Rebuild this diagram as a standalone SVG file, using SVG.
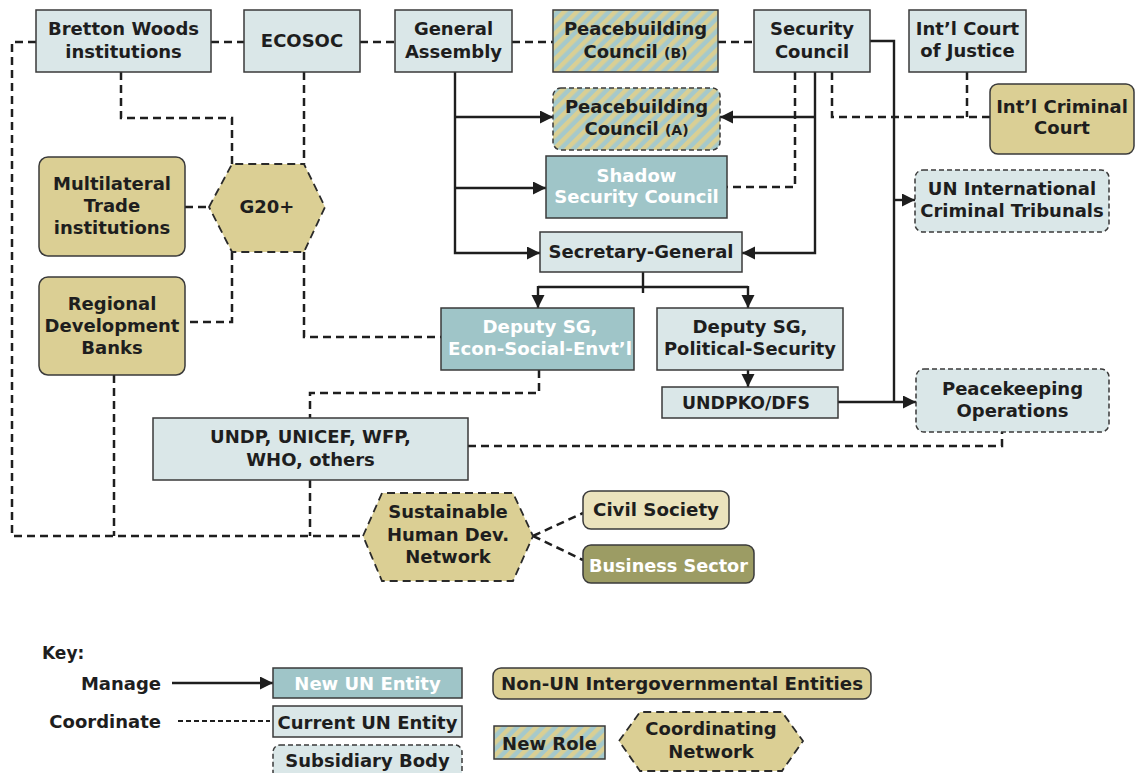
<svg xmlns="http://www.w3.org/2000/svg" width="1135" height="773" viewBox="0 0 1135 773">
<style>
text{font-family:"DejaVu Sans","Liberation Sans",sans-serif;font-weight:bold;font-size:18px;fill:#1e1e1e;text-anchor:middle}
.w{fill:#ffffff}
.sm{font-size:14px}
.k{font-size:18px;text-anchor:end}
.cur{fill:#dae7e8;stroke:#3a3a3a;stroke-width:1.5}
.new{fill:#9fc5c8;stroke:#3a3a3a;stroke-width:1.5}
.non{fill:#dbcf94;stroke:#3a3a3a;stroke-width:1.5}
.civ{fill:#ebe3bd;stroke:#3a3a3a;stroke-width:1.5}
.bus{fill:#9c9c64;stroke:#3a3a3a;stroke-width:1.5}
.role{fill:url(#stripes);stroke:#3a3a3a;stroke-width:1.5}
.sub{stroke-dasharray:5,3}
.net{fill:#dbcf94;stroke:#2a2a2a;stroke-width:1.8;stroke-dasharray:8,5}
.d{fill:none;stroke:#1e1e1e;stroke-width:2.5;stroke-dasharray:8,5}
.s{fill:none;stroke:#1e1e1e;stroke-width:2.4}
.a{marker-end:url(#arr)}
</style>
<defs>
<pattern id="stripes" patternUnits="userSpaceOnUse" width="9" height="9" patternTransform="rotate(45)">
<rect x="0" y="0" width="9" height="9" fill="#a5c9cb"/>
<rect x="0" y="0" width="4.5" height="9" fill="#d9cf94"/>
</pattern>
<marker id="arr" markerUnits="userSpaceOnUse" markerWidth="14" markerHeight="14" refX="13" refY="6.5" orient="auto">
<path d="M0,0 L13,6.5 L0,13 z" fill="#1e1e1e"/>
</marker>
</defs>

<g id="connectors">
<path class="d" d="M36,42 H12 V536 H363"/>
<path class="d" d="M114,375 V536"/>
<path class="d" d="M310,480 V536"/>
<path class="d" d="M211,42 H244"/>
<path class="d" d="M360,42 H395"/>
<path class="d" d="M512,42 H553"/>
<path class="d" d="M718,42 H754"/>
<path class="d" d="M121,72 V118 H232 V164"/>
<path class="d" d="M304,72 V164"/>
<path class="d" d="M232,252 V322 H185"/>
<path class="d" d="M304,252 V337 H441"/>
<path class="d" d="M185,207 H209"/>
<path class="d" d="M539,370 V393 H310 V418"/>
<path class="d" d="M468,446 H1002 V432"/>
<path class="d" d="M795,72 V187 H727"/>
<path class="d" d="M832,72 V117 H990"/>
<path class="d" d="M967,72 V117"/>
<path class="d" d="M533,536 L583,513"/>
<path class="d" d="M533,536 L583,560"/>
<path class="s a" d="M455,72 V253 H540"/>
<path class="s a" d="M455,117 H553"/>
<path class="s a" d="M455,188 H546"/>
<path class="s a" d="M815,72 V253 H742"/>
<path class="s a" d="M815,117 H720"/>
<path class="s" d="M870,41 H894 V402"/>
<path class="s a" d="M894,200 H915"/>
<path class="s a" d="M838,402 H916"/>
<path class="s" d="M643,272 V293"/>
<path class="s" d="M538,287 H748"/>
<path class="s a" d="M538,286 V308"/>
<path class="s a" d="M748,286 V308"/>
<path class="s a" d="M748,370 V387"/>
</g>

<g id="bretton-woods"><rect class="cur" x="36" y="10" width="175" height="62"/><text x="123.5" y="35">Bretton Woods</text><text x="123.5" y="58">institutions</text></g>
<g id="ecosoc"><rect class="cur" x="244" y="10" width="116" height="62"/><text x="302" y="47">ECOSOC</text></g>
<g id="general-assembly"><rect class="cur" x="395" y="10" width="117" height="62"/><text x="453.5" y="35">General</text><text x="453.5" y="58">Assembly</text></g>
<g id="peacebuilding-b"><rect class="role" x="553" y="10" width="165" height="62"/><text x="635.5" y="35">Peacebuilding</text><text x="635.5" y="58">Council <tspan class="sm">(B)</tspan></text></g>
<g id="security-council"><rect class="cur" x="754" y="10" width="116" height="62"/><text x="812" y="35">Security</text><text x="812" y="58">Council</text></g>
<g id="icj"><rect class="cur" x="909" y="10" width="117" height="62"/><text x="967.5" y="35">Int’l Court</text><text x="967.5" y="57">of Justice</text></g>
<g id="peacebuilding-a"><rect class="role sub" x="553" y="88" width="167" height="62" rx="8"/><text x="636.5" y="113">Peacebuilding</text><text x="636.5" y="135">Council <tspan class="sm">(A)</tspan></text></g>
<g id="icc"><rect class="non" x="990" y="84" width="144" height="70" rx="8"/><text x="1062" y="113">Int’l Criminal</text><text x="1062" y="134">Court</text></g>
<g id="shadow-sc"><rect class="new" x="546" y="156" width="181" height="62"/><text class="w" x="636.5" y="182">Shadow</text><text class="w" x="636.5" y="203">Security Council</text></g>
<g id="un-ict"><rect class="cur sub" x="915" y="170" width="194" height="62" rx="8"/><text x="1012" y="195">UN International</text><text x="1012" y="217">Criminal Tribunals</text></g>
<g id="secretary-general"><rect class="cur" x="540" y="232" width="202" height="40"/><text x="641" y="258">Secretary-General</text></g>
<g id="multilateral-trade"><rect class="non" x="39" y="157" width="146" height="99" rx="9"/><text x="112" y="190">Multilateral</text><text x="112" y="212">Trade</text><text x="112" y="234">institutions</text></g>
<g id="g20"><polygon class="net" points="209,207 232,164 304,164 325,207 304,252 232,252"/><text x="267" y="213">G20+</text></g>
<g id="regional-banks"><rect class="non" x="39" y="277" width="146" height="98" rx="9"/><text x="112" y="310">Regional</text><text x="112" y="332">Development</text><text x="112" y="354">Banks</text></g>
<g id="dsg-econ"><rect class="new" x="441" y="308" width="193" height="62"/><text class="w" x="540" y="333" textLength="115" lengthAdjust="spacingAndGlyphs">Deputy SG,</text><text class="w" x="540" y="355" textLength="184" lengthAdjust="spacingAndGlyphs">Econ-Social-Envt’l</text></g>
<g id="dsg-pol"><rect class="cur" x="657" y="308" width="186" height="62"/><text x="750" y="333" textLength="115" lengthAdjust="spacingAndGlyphs">Deputy SG,</text><text x="750" y="355" textLength="172" lengthAdjust="spacingAndGlyphs">Political-Security</text></g>
<g id="undpko"><rect class="cur" x="662" y="387" width="176" height="31"/><text x="746" y="409" textLength="128" lengthAdjust="spacingAndGlyphs">UNDPKO/DFS</text></g>
<g id="peacekeeping"><rect class="cur sub" x="916" y="369" width="193" height="63" rx="8"/><text x="1012.5" y="395">Peacekeeping</text><text x="1012.5" y="417">Operations</text></g>
<g id="undp"><rect class="cur" x="153" y="418" width="315" height="62"/><text x="310.5" y="443">UNDP, UNICEF, WFP,</text><text x="310.5" y="466">WHO, others</text></g>
<g id="shdn"><polygon class="net" points="363,536 382,493 513,493 533,536 513,581 382,581"/><text x="448" y="518">Sustainable</text><text x="448" y="541">Human Dev.</text><text x="448" y="563">Network</text></g>
<g id="civil-society"><rect class="civ" x="583" y="491" width="146" height="38" rx="8"/><text x="656" y="516" textLength="126" lengthAdjust="spacingAndGlyphs">Civil Society</text></g>
<g id="business-sector"><rect class="bus" x="583" y="545" width="171" height="38" rx="8"/><text class="w" x="668.5" y="572" textLength="159" lengthAdjust="spacingAndGlyphs">Business Sector</text></g>

<g id="key">
<text x="42" y="659" style="font-size:17px;text-anchor:start">Key:</text>
<text class="k" x="161" y="690">Manage</text>
<path class="s a" d="M172,683 H273"/>
<text class="k" x="161" y="728">Coordinate</text>
<path d="M178,721 H270" fill="none" stroke="#1e1e1e" stroke-width="1.8" stroke-dasharray="5,3"/>
<rect class="new" x="273" y="668" width="189" height="30"/><text class="w" x="367.5" y="690">New UN Entity</text>
<rect class="cur" x="273" y="706" width="189" height="31"/><text x="367.5" y="729">Current UN Entity</text>
<rect class="cur sub" x="273" y="745" width="189" height="34" rx="7"/><text x="367.5" y="767">Subsidiary Body</text>
<rect class="non" x="493" y="668" width="378" height="31" rx="8"/><text x="682" y="690" textLength="362" lengthAdjust="spacingAndGlyphs">Non-UN Intergovernmental Entities</text>
<rect class="role" x="494" y="726" width="111" height="33"/><text x="549.5" y="750">New Role</text>
<polygon class="net" points="619,741 640,712 782,712 803,741 782,771 640,771"/><text x="711" y="735">Coordinating</text><text x="711" y="758">Network</text>
</g>
</svg>
